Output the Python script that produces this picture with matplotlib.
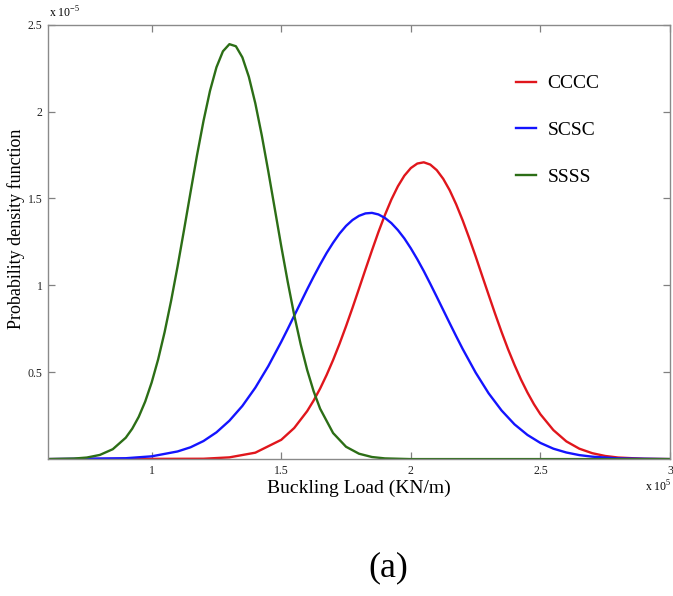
import matplotlib
matplotlib.use("Agg")
import matplotlib.pyplot as plt

# Buckling load (x 1e5 KN/m) and PDF values (x 1e-5)
x_cccc = [0.60, 1.20, 1.30, 1.40, 1.50, 1.55, 1.60, 1.625, 1.65, 1.675, 1.70, 1.725, 1.75,
          1.775, 1.80, 1.825, 1.85, 1.875, 1.90, 1.925, 1.95, 1.975, 2.00, 2.025, 2.05,
          2.075, 2.10, 2.125, 2.15, 2.175, 2.20, 2.225, 2.25, 2.275, 2.30, 2.325, 2.35,
          2.375, 2.40, 2.425, 2.45, 2.475, 2.50, 2.55, 2.60, 2.65, 2.70, 2.75, 2.80,
          2.90, 3.00]
y_cccc = [0.0, 0.002, 0.010, 0.037, 0.111, 0.179, 0.276, 0.337, 0.406, 0.484, 0.570, 0.664, 0.765,
          0.871, 0.981, 1.092, 1.201, 1.307, 1.405, 1.494, 1.570, 1.631, 1.675, 1.701, 1.708,
          1.695, 1.663, 1.613, 1.547, 1.466, 1.374, 1.273, 1.167, 1.056, 0.946, 0.837, 0.732,
          0.633, 0.542, 0.458, 0.383, 0.316, 0.258, 0.167, 0.102, 0.060, 0.034, 0.018, 0.009,
          0.002, 0.0]

x_scsc = [0.60, 0.90, 1.00, 1.10, 1.15, 1.20, 1.25, 1.30, 1.35, 1.40, 1.45, 1.50, 1.525,
          1.55, 1.575, 1.60, 1.625, 1.65, 1.675, 1.70, 1.725, 1.75, 1.775, 1.80, 1.825,
          1.85, 1.875, 1.90, 1.925, 1.95, 1.975, 2.00, 2.025, 2.05, 2.075, 2.10, 2.125,
          2.15, 2.175, 2.20, 2.25, 2.30, 2.35, 2.40, 2.45, 2.50, 2.55, 2.60, 2.65,
          2.70, 2.80, 3.00]
y_scsc = [0.0, 0.005, 0.016, 0.044, 0.068, 0.104, 0.154, 0.221, 0.306, 0.411, 0.535, 0.675, 0.749,
          0.825, 0.901, 0.977, 1.050, 1.120, 1.186, 1.245, 1.298, 1.342, 1.376, 1.400, 1.414,
          1.417, 1.408, 1.388, 1.358, 1.318, 1.270, 1.213, 1.150, 1.082, 1.009, 0.934, 0.858,
          0.782, 0.707, 0.634, 0.498, 0.379, 0.280, 0.200, 0.139, 0.093, 0.060, 0.038, 0.023,
          0.014, 0.004, 0.0]

x_ssss = [0.60, 0.70, 0.75, 0.80, 0.85, 0.90, 0.925, 0.95, 0.975, 1.00, 1.025, 1.05, 1.075,
          1.10, 1.125, 1.15, 1.175, 1.20, 1.225, 1.25, 1.275, 1.30, 1.325, 1.35, 1.375,
          1.40, 1.425, 1.45, 1.475, 1.50, 1.525, 1.55, 1.575, 1.60, 1.625, 1.65, 1.70,
          1.75, 1.80, 1.85, 1.90, 2.00, 3.00]
y_ssss = [0.0, 0.003, 0.009, 0.024, 0.057, 0.123, 0.175, 0.243, 0.331, 0.441, 0.574, 0.731, 0.911,
          1.109, 1.320, 1.536, 1.749, 1.946, 2.119, 2.255, 2.347, 2.388, 2.376, 2.312, 2.200,
          2.047, 1.862, 1.656, 1.441, 1.225, 1.020, 0.829, 0.660, 0.513, 0.390, 0.290, 0.150,
          0.071, 0.031, 0.012, 0.004, 0.0, 0.0]

labels = ["CCCC", "SCSC", "SSSS"]
colors = ["#e0161c", "#1414ff", "#2c6e16"]

x_ticks = [1, 1.5, 2, 2.5, 3]
x_ticklabels = ["1", "1.5", "2", "2.5", "3"]
y_ticks = [0.5, 1, 1.5, 2, 2.5]
y_ticklabels = ["0.5", "1", "1.5", "2", "2.5"]

plt.rcParams['font.family'] = ['Liberation Serif', 'DejaVu Serif']

fig = plt.figure(figsize=(6.73, 5.96), dpi=100)
ax = fig.add_axes([48/673, 1 - 459.1/596, 622/673, 434.4/596])

for xs, ys, lab, c in zip([x_cccc, x_scsc, x_ssss], [y_cccc, y_scsc, y_ssss], labels, colors):
    ax.plot(xs, ys, color=c, lw=1.7, label=lab, solid_joinstyle='round')

ax.set_xlim(0.6, 3.0)
ax.set_ylim(0, 2.5)
ax.set_xticks(x_ticks)
ax.set_xticklabels(x_ticklabels)
ax.set_yticks(y_ticks)
ax.set_yticklabels(y_ticklabels)
ax.tick_params(direction='in', top=True, right=True, length=5, width=0.9,
               colors='#808080', labelcolor='#222222', labelsize=8.5, pad=4)
for s in ax.spines.values():
    s.set_color('#8a8a8a')
    s.set_linewidth(1.0)

ax.set_xlabel("Buckling Load (KN/m)", fontsize=14, labelpad=2)
ax.set_ylabel("Probability density function", fontsize=13)
ax.yaxis.set_label_coords(-0.037, 0.53)

fig.text(49/673, 1 - 18/596, r"x 10$^{\mathregular{-5}}$", fontsize=8.5, ha='left', va='baseline')
fig.text(645/673, 1 - 492/596, r"x 10$^{\mathregular{5}}$", fontsize=8.5, ha='left', va='baseline')

leg = ax.legend(frameon=False, loc='upper left', bbox_to_anchor=(0.725, 0.925),
                fontsize=14, handlelength=1.0, handletextpad=0.6, labelspacing=1.5)

fig.text(388/673, 1 - 568/596, "(a)", fontsize=26, ha='center', va='center')

fig.savefig("out.png", dpi=100)
